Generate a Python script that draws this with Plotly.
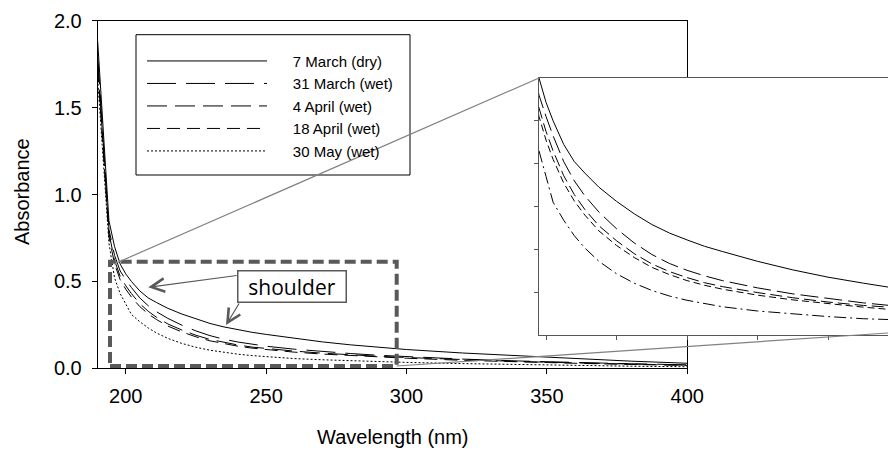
import plotly.graph_objects as go

# ---------------- data ----------------
wavelength = [190, 194, 196, 198, 200, 202, 205, 208, 211, 215, 220, 225, 230, 235,
              240, 245, 250, 260, 270, 280, 290, 300, 320, 340, 360, 380, 400]

abs_7_march = [1.88, 0.85, 0.70, 0.60, 0.543, 0.50, 0.445, 0.405, 0.378, 0.345, 0.312, 0.283, 0.258, 0.238,
               0.222, 0.207, 0.195, 0.172, 0.152, 0.135, 0.121, 0.108, 0.088, 0.071, 0.055, 0.041, 0.029]
abs_31_march = [1.80, 0.80, 0.65, 0.56, 0.51, 0.465, 0.405, 0.36, 0.325, 0.287, 0.248, 0.215, 0.188, 0.167,
                0.151, 0.138, 0.127, 0.110, 0.096, 0.085, 0.075, 0.067, 0.053, 0.042, 0.033, 0.026, 0.020]
abs_4_april = [1.76, 0.78, 0.62, 0.53, 0.475, 0.43, 0.372, 0.328, 0.293, 0.255, 0.220, 0.190, 0.166, 0.148,
               0.134, 0.122, 0.113, 0.099, 0.087, 0.077, 0.069, 0.062, 0.049, 0.039, 0.031, 0.024, 0.018]
abs_18_april = [1.72, 0.76, 0.60, 0.51, 0.455, 0.41, 0.355, 0.313, 0.280, 0.243, 0.209, 0.181, 0.158, 0.141,
                0.127, 0.116, 0.107, 0.093, 0.082, 0.073, 0.065, 0.058, 0.046, 0.036, 0.029, 0.022, 0.017]
abs_30_may = [1.66, 0.72, 0.52, 0.43, 0.37, 0.31, 0.268, 0.232, 0.203, 0.172, 0.143, 0.121, 0.104, 0.091,
              0.081, 0.073, 0.066, 0.056, 0.049, 0.043, 0.038, 0.034, 0.027, 0.021, 0.016, 0.012, 0.009]

series_names = ["7 March (dry)", "31 March (wet)", "4 April (wet)", "18 April (wet)", "30 May (wet)"]
series_values = [abs_7_march, abs_31_march, abs_4_april, abs_18_april, abs_30_may]

main_x_ticks = [200, 250, 300, 350, 400]
main_y_ticks = [0.0, 0.5, 1.0, 1.5, 2.0]
inset_x_ticks = [200, 220, 240, 260, 280]
inset_y_ticks = [0.1, 0.2, 0.3, 0.4, 0.5]

# ---------------- styling ----------------
W, H = 888, 450
FONT = "Liberation Sans, Arial, sans-serif"
main_dashes = ["solid", "29px,10px", "20px,8px", "13px,7px", "2px,2px"]
inset_dashes = ["solid", "18px,6px", "12px,5px", "7px,4px", "12px,4px,2px,4px"]
LEGEND_PAD = "\u00a0" * 5


def pxx(x):
    """screen pixel x -> paper fraction"""
    return x / W


def pyy(y):
    """screen pixel y -> paper fraction"""
    return 1 - y / H


fig = go.Figure()

for name, vals, dash in zip(series_names, series_values, main_dashes):
    fig.add_trace(go.Scatter(x=wavelength, y=vals, mode="lines", name=LEGEND_PAD + name,
                             line=dict(color="black", width=1, dash=dash),
                             xaxis="x", yaxis="y", showlegend=True))

for name, vals, dash in zip(series_names, series_values, inset_dashes):
    fig.add_trace(go.Scatter(x=wavelength, y=vals, mode="lines", name=name,
                             line=dict(color="black", width=1, dash=dash),
                             xaxis="x2", yaxis="y2", showlegend=False))

axis_common = dict(showgrid=False, zeroline=False, showline=True, linewidth=1,
                   ticks="outside", tickwidth=1, automargin=False)

inset_left = 539.0
inset_px_per_nm = 3.525
inset_x_range = [198, 198 + (W - inset_left) / inset_px_per_nm]

fig.update_layout(
    width=W, height=H, autosize=False,
    margin=dict(l=0, r=0, t=0, b=0, pad=0, autoexpand=False),
    paper_bgcolor="white", plot_bgcolor="white",
    font=dict(family=FONT, color="black"),
    hovermode=False,
    xaxis=dict(domain=[pxx(97.7), pxx(687.3)], range=[190, 400], tickvals=main_x_ticks,
               ticklen=5, linecolor="black", tickcolor="black", mirror=True,
               tickfont=dict(size=20, family=FONT), anchor="y", ticklabelstandoff=5,
               **axis_common),
    yaxis=dict(domain=[pyy(368.3), pyy(20.7)], range=[0, 2], tickvals=main_y_ticks,
               tickformat=".1f", ticklen=5, linecolor="black", tickcolor="black", mirror=True,
               tickfont=dict(size=20, family=FONT), anchor="x", ticklabelstandoff=6,
               **axis_common),
    xaxis2=dict(domain=[pxx(inset_left), 1.0], range=inset_x_range, tickvals=inset_x_ticks,
                showticklabels=False, ticklen=4, linecolor="#555555", tickcolor="#555555",
                mirror=True, anchor="y2", **axis_common),
    yaxis2=dict(domain=[pyy(335), pyy(78)], range=[0, 0.6], tickvals=inset_y_ticks,
                showticklabels=False, ticklen=4, linecolor="#555555", tickcolor="#555555",
                mirror=False, anchor="x2", **axis_common),
    legend=dict(x=pxx(142), y=pyy(44.7), xanchor="left", yanchor="top",
                bgcolor="rgba(0,0,0,0)", borderwidth=0,
                font=dict(size=15, family=FONT), itemwidth=120, tracegroupgap=0),
    showlegend=True,
)

GRAY = "#595959"
shapes = [
    # legend frame
    dict(type="rect", xref="paper", yref="paper", x0=pxx(136), x1=pxx(410), y0=pyy(175), y1=pyy(34.7),
         line=dict(color="black", width=1), fillcolor="white", layer="below"),
    # dashed zoom rectangle
    dict(type="rect", xref="paper", yref="paper", x0=pxx(110), x1=pxx(396.7), y0=pyy(366), y1=pyy(261.7),
         line=dict(color=GRAY, width=4, dash="11px,5px"), fillcolor="rgba(0,0,0,0)", layer="above"),
    # connector lines to inset
    dict(type="line", xref="paper", yref="paper", x0=pxx(114), y0=pyy(264), x1=pxx(inset_left), y1=pyy(78),
         line=dict(color="#808080", width=1.2)),
    dict(type="line", xref="paper", yref="paper", x0=pxx(396.7), y0=pyy(366), x1=pxx(888), y1=pyy(333),
         line=dict(color="#808080", width=1.2)),
]
fig.update_layout(shapes=shapes)

annotations = [
    dict(text="Wavelength (nm)", xref="paper", yref="paper", x=pxx(392.5), y=pyy(449.5),
         showarrow=False, font=dict(size=20, family=FONT), xanchor="center", yanchor="bottom"),
    dict(text="Absorbance", xref="paper", yref="paper", x=pxx(22), y=pyy(192),
         showarrow=False, textangle=-90, font=dict(size=20, family=FONT),
         xanchor="center", yanchor="middle"),
    dict(text="shoulder", xref="paper", yref="paper", x=pxx(291.7), y=pyy(286),
         showarrow=False, font=dict(size=21, family="Open Sans, sans-serif"),
         width=103, height=26, align="center", valign="middle",
         bordercolor=GRAY, borderwidth=1.5, borderpad=2, bgcolor="white",
         xanchor="center", yanchor="middle"),
    dict(text="", x=208.0, y=0.466, xref="x", yref="y", showarrow=True,
         ax=90, ay=-12, axref="pixel", ayref="pixel", arrowhead=5, arrowsize=2.2,
         arrowwidth=1.2, arrowcolor=GRAY, standoff=0),
    dict(text="", x=235.7, y=0.249, xref="x", yref="y", showarrow=True,
         ax=14, ay=-23, axref="pixel", ayref="pixel", arrowhead=5, arrowsize=2.2,
         arrowwidth=1.2, arrowcolor=GRAY, standoff=0),
]
fig.update_layout(annotations=annotations)

fig.write_html(
    "out.html",
    config={"displayModeBar": False, "staticPlot": False},
    post_script="document.body.style.margin='0';document.body.style.overflow='hidden';",
)
